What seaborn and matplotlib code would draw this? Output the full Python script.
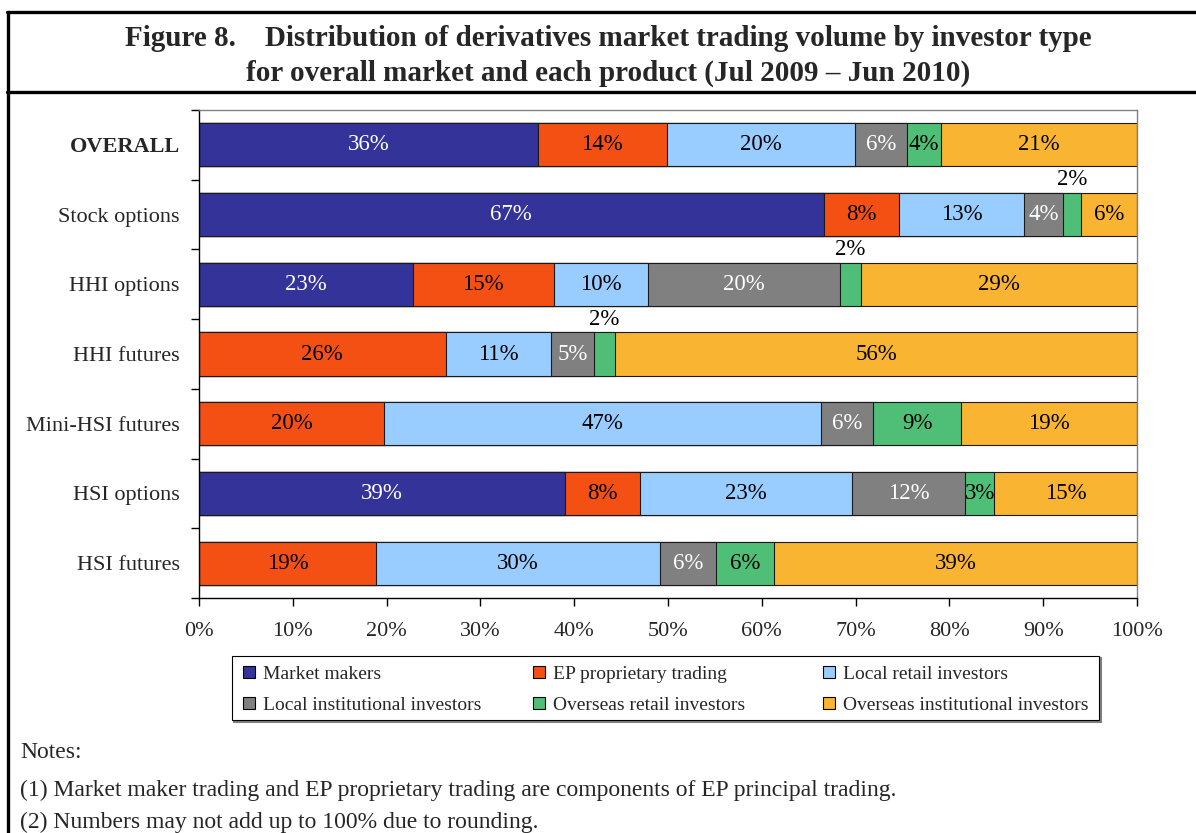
import matplotlib.pyplot as plt
import matplotlib.lines as mlines
import matplotlib.patches as mpatches
import numpy as np
import pandas as pd
import seaborn as sns

products = ["OVERALL", "Stock options", "HHI options", "HHI futures",
            "Mini-HSI futures", "HSI options", "HSI futures"]
investor_types = ["Market makers", "EP proprietary trading", "Local retail investors",
                  "Local institutional investors", "Overseas retail investors",
                  "Overseas institutional investors"]

# shares of trading volume (%)
market_makers = [36.1, 66.6, 22.8, 0, 0, 39.0, 0]
ep_proprietary = [13.8, 8.0, 15.0, 26.3, 19.7, 8.0, 18.9]
local_retail = [20.0, 13.4, 10.1, 11.2, 46.6, 22.6, 30.2]
local_institutional = [5.6, 4.1, 20.4, 4.6, 5.6, 12.1, 6.0]
overseas_retail = [3.6, 1.9, 2.3, 2.3, 9.3, 3.1, 6.2]
overseas_institutional = [20.9, 6.0, 29.4, 55.6, 18.8, 15.2, 38.7]

colors = ["#333399", "#F55014", "#99CCFF", "#808080", "#4FBF77", "#F9B431"]
label_colors = ["white", "black", "black", "white", "black", "black"]

values = np.array([market_makers, ep_proprietary, local_retail,
                   local_institutional, overseas_retail, overseas_institutional])
cum = values.cumsum(axis=0)

sns.set_theme(style="ticks")
plt.rcParams["font.family"] = ["Liberation Serif", "DejaVu Serif"]

W, H = 1196, 833
fig = plt.figure(figsize=(W / 100, H / 100), dpi=100)
ax = fig.add_axes([199 / W, 1 - 598 / H, (1137 - 199) / W, (598 - 110) / H])

# stacked bars: draw cumulative totals from the largest down
for k in reversed(range(len(investor_types))):
    df = pd.DataFrame({"product": products, "cum": cum[k]})
    sns.barplot(data=df, x="cum", y="product", order=products, orient="h",
                color=colors[k], saturation=1, width=0.62, errorbar=None,
                edgecolor="#1a1a1a", linewidth=0.8, ax=ax)

# segment labels
for k in range(len(investor_types)):
    for i in range(len(products)):
        v = values[k, i]
        if v <= 0:
            continue
        xc = cum[k, i] - v / 2
        if v < 2.5:
            ax.text(xc, i - 0.5, f"{v:.0f}%", ha="center", va="center",
                    fontsize=16.5, color="black")
        else:
            ax.text(xc, i, f"{v:.0f}%", ha="center", va="center",
                    fontsize=16.5, color=label_colors[k])

ax.set_xlim(0, 100)
ax.set_ylim(len(products) - 0.5, -0.5)
ax.set_xticks(range(0, 101, 10))
ax.set_xticklabels([f"{t}%" for t in range(0, 101, 10)], fontsize=16)
ax.set_yticks(range(len(products)))
ax.set_yticklabels(products, fontsize=16)
ax.get_yticklabels()[0].set_fontweight("bold")
ax.set_yticks(np.arange(-0.5, len(products), 1), minor=True)
ax.tick_params(axis="y", which="major", length=0, pad=14)
ax.tick_params(axis="y", which="minor", length=6, width=1, color="black")
ax.tick_params(axis="x", which="major", length=6, width=1, color="black", pad=11)
ax.set_xlabel("")
ax.set_ylabel("")
for side in ["top", "right"]:
    ax.spines[side].set_visible(True)
    ax.spines[side].set_color("#808080")
    ax.spines[side].set_linewidth(1)
for side in ["left", "bottom"]:
    ax.spines[side].set_color("black")
    ax.spines[side].set_linewidth(1)

# legend: three equal-width columns, row-major order
handles = [mpatches.Patch(facecolor=c, edgecolor="black", linewidth=0.8) for c in colors]
col_x = [243, 533, 823]
for c in range(3):
    idx = [c, c + 3]
    fig.legend([handles[j] for j in idx], [investor_types[j] for j in idx],
               loc="center left", bbox_to_anchor=(col_x[c] / W, 1 - 690 / H),
               fontsize=14, frameon=False, handlelength=0.6, handleheight=0.6,
               handletextpad=0.45, borderpad=0, borderaxespad=0, labelspacing=0.72)
fig.add_artist(mpatches.Rectangle((234 / W, 1 - 722 / H), (1101 - 234) / W, 64 / H,
                                  transform=fig.transFigure, facecolor="none",
                                  edgecolor="#808080", lw=1.5, zorder=0))
fig.add_artist(mpatches.Rectangle((232 / W, 1 - 720 / H), (1099 - 232) / W, 64 / H,
                                  transform=fig.transFigure, facecolor="white",
                                  edgecolor="black", lw=0.8, zorder=0.5))

# title box lines
fig.add_artist(mlines.Line2D([7 / W, 1], [1 - 12 / H] * 2, color="black", lw=2.4))
fig.add_artist(mlines.Line2D([7 / W, 1], [1 - 92 / H] * 2, color="black", lw=2.4))
fig.add_artist(mlines.Line2D([8 / W] * 2, [0, 1 - 12 / H], color="black", lw=2.4))

fig.text(608 / W, 1 - 39 / H,
         "Figure 8.    Distribution of derivatives market trading volume by investor type",
         ha="center", va="center", fontsize=21, fontweight="bold")
fig.text(608 / W, 1 - 73 / H,
         "for overall market and each product (Jul 2009 \u2013 Jun 2010)",
         ha="center", va="center", fontsize=21, fontweight="bold")

notes = ["Notes:",
         "(1) Market maker trading and EP proprietary trading are components of EP principal trading.",
         "(2) Numbers may not add up to 100% due to rounding."]
for txt, yy in zip(notes, [753, 790, 822]):
    fig.text(20 / W, 1 - yy / H, txt, ha="left", va="center", fontsize=17)

fig.savefig("out.png", dpi=100, facecolor="white")
